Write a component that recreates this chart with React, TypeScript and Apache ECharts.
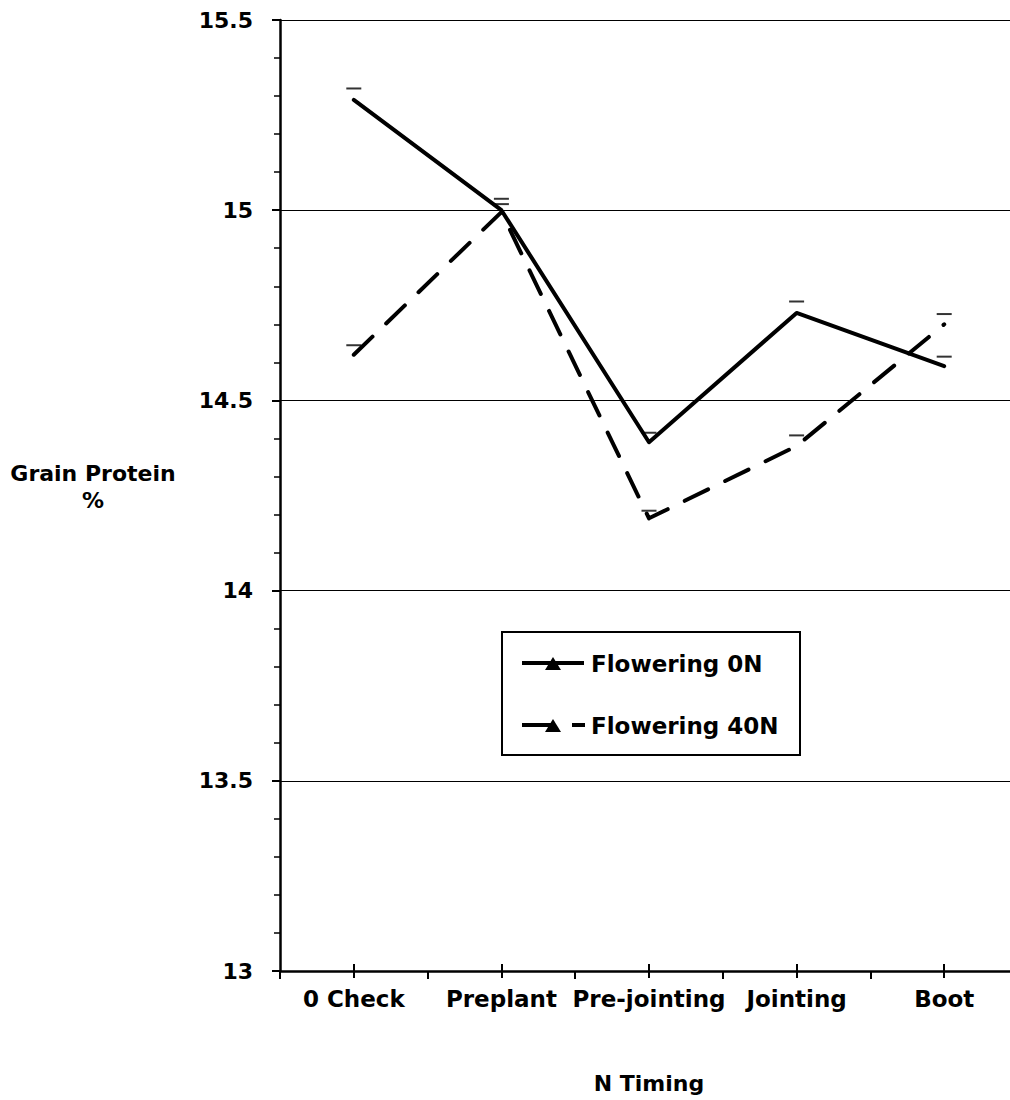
import React, { useEffect, useRef } from "react";
import * as echarts from "echarts";

const categories = ["0 Check", "Preplant", "Pre-jointing", "Jointing", "Boot"];
const flowering0N = [15.29, 15.0, 14.39, 14.73, 14.59];
const flowering40N = [14.62, 14.995, 14.19, 14.38, 14.7];
const cap0N = [15.32, 15.03, 14.415, 14.76, 14.615];
const cap40N = [14.645, 15.016, 14.21, 14.408, 14.727];
const yTicks = { min: 13, max: 15.5, interval: 0.5 };

const FONT = "DejaVu Sans";

export default function App() {
  const ref = useRef<HTMLDivElement>(null);
  useEffect(() => {
    if (!ref.current) return;
    const chart = echarts.init(ref.current, undefined, { renderer: "svg" });
    const txt = { fontFamily: FONT, fontWeight: "bold" as const, color: "#000" };
    chart.setOption({
      animation: false,
      backgroundColor: "#fff",
      grid: { left: 280, right: 2, top: 20, bottom: 129, containLabel: false },
      xAxis: [
        {
          type: "category",
          data: categories,
          boundaryGap: true,
          axisLine: { show: true, lineStyle: { color: "#000", width: 2.5 } },
          axisTick: { show: true, length: 8, interval: 0, lineStyle: { color: "#000", width: 2 } },
          axisLabel: { ...txt, fontSize: 23, margin: 16, interval: 0 },
          splitLine: { show: false },
          name: "N Timing",
          nameLocation: "middle",
          nameGap: 101,
          nameTextStyle: { ...txt, fontSize: 22 },
        },
        {
          type: "category",
          data: categories,
          position: "bottom",
          offset: -7,
          boundaryGap: true,
          axisLine: { show: false },
          axisTick: { show: true, alignWithLabel: true, length: 14, interval: 0, lineStyle: { color: "#000", width: 2 } },
          axisLabel: { show: false },
          splitLine: { show: false },
        },
      ],
      yAxis: {
        type: "value",
        min: yTicks.min,
        max: yTicks.max,
        interval: yTicks.interval,
        axisLine: { show: true, lineStyle: { color: "#000", width: 2.5 } },
        axisTick: { show: true, length: 8, lineStyle: { color: "#000", width: 2 } },
        minorTick: { show: true, splitNumber: 5, length: 6, lineStyle: { color: "#000", width: 1.5 } },
        splitLine: { show: true, lineStyle: { color: "#000", width: 1 } },
        axisLabel: { ...txt, fontSize: 22, margin: 27 },
      },
      series: [
        {
          name: "Flowering 0N",
          type: "line",
          data: flowering0N,
          symbol: "none",
          lineStyle: { color: "#000", width: 4, cap: "round", join: "round" },
          z: 3,
        },
        {
          name: "Flowering 40N",
          type: "line",
          data: flowering40N,
          symbol: "none",
          lineStyle: { color: "#000", width: 4, type: [26, 19], cap: "round", join: "round" },
          z: 3,
        },
        {
          type: "scatter",
          data: cap0N,
          symbol: "rect",
          symbolSize: [15, 2],
          itemStyle: { color: "#000" },
          silent: true,
          z: 4,
        },
        {
          type: "scatter",
          data: cap40N,
          symbol: "rect",
          symbolSize: [15, 2],
          itemStyle: { color: "#000" },
          silent: true,
          z: 4,
        },
      ],
      graphic: [
        {
          type: "text",
          left: 93 - 90,
          top: 0,
          x: 0,
          style: {},
          invisible: true,
        },
        {
          type: "text",
          x: 93,
          y: 487,
          style: {
            text: "Grain Protein\n%",
            fill: "#000",
            font: `bold 22px "${FONT}"`,
            align: "center",
            verticalAlign: "middle",
            lineHeight: 27,
          },
        },
        {
          type: "rect",
          shape: { x: 502, y: 632, width: 298, height: 123 },
          style: { fill: "#fff", stroke: "#000", lineWidth: 2 },
          z: 10,
        },
        {
          type: "line",
          shape: { x1: 522, y1: 663, x2: 584, y2: 663 },
          style: { stroke: "#000", lineWidth: 4 },
          z: 11,
        },
        {
          type: "polygon",
          shape: { points: [[545, 670], [561, 670], [553, 657]] },
          style: { fill: "#000" },
          z: 11,
        },
        {
          type: "text",
          x: 591,
          y: 664,
          style: {
            text: "Flowering 0N",
            fill: "#000",
            font: `bold 23px "${FONT}"`,
            verticalAlign: "middle",
          },
          z: 11,
        },
        {
          type: "line",
          shape: { x1: 522, y1: 725, x2: 553, y2: 725 },
          style: { stroke: "#000", lineWidth: 4 },
          z: 11,
        },
        {
          type: "line",
          shape: { x1: 572, y1: 725, x2: 585, y2: 725 },
          style: { stroke: "#000", lineWidth: 4 },
          z: 11,
        },
        {
          type: "polygon",
          shape: { points: [[545, 732], [561, 732], [553, 719]] },
          style: { fill: "#000" },
          z: 11,
        },
        {
          type: "text",
          x: 591,
          y: 726,
          style: {
            text: "Flowering 40N",
            fill: "#000",
            font: `bold 23px "${FONT}"`,
            verticalAlign: "middle",
          },
          z: 11,
        },
      ],
    });
    return () => chart.dispose();
  }, []);
  return (
    <div style={{ position: "absolute", left: 0, top: 0, width: 1010, height: 1100, overflow: "hidden", background: "#fff" }}>
      <div ref={ref} style={{ width: 1020, height: 1100 }} />
    </div>
  );
}
